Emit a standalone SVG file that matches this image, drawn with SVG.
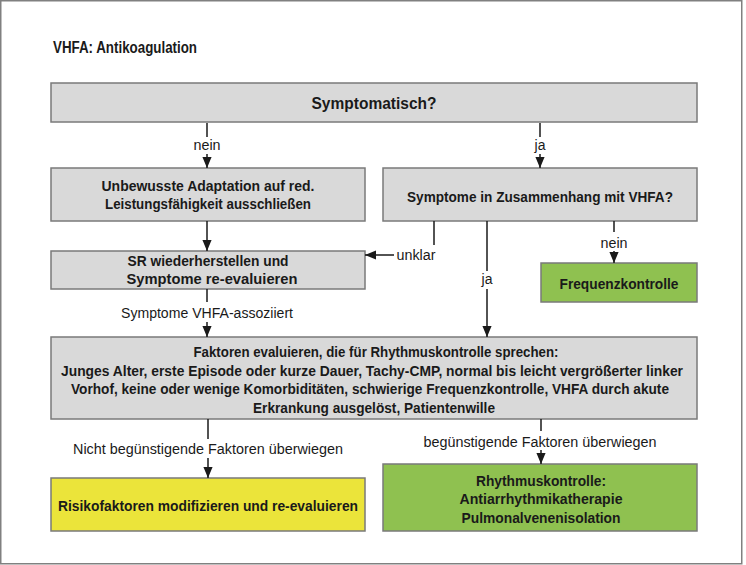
<svg xmlns="http://www.w3.org/2000/svg" width="746" height="565" viewBox="0 0 746 565">
<style>
.box{stroke:#7a7a7a;stroke-width:1.5}
.gray{fill:#d9d9d9}
.green{fill:#8fc150}
.yellow{fill:#ebe43a}
.b{font-family:"Liberation Sans",Arial,sans-serif;font-weight:bold;font-size:15px;fill:#1a1a1a;text-anchor:middle;dominant-baseline:central}
.r{font-family:"Liberation Sans",Arial,sans-serif;font-size:14px;fill:#1a1a1a;text-anchor:middle;dominant-baseline:central}
.c{stroke:#1a1a1a;stroke-width:1.5;fill:none}
</style>
<defs>
<marker id="ah" markerWidth="11" markerHeight="13" refX="12" refY="5" orient="auto" markerUnits="userSpaceOnUse" viewBox="0 0 12 10">
<path d="M0,0 L12,5 L0,10 z" fill="#1a1a1a"/>
</marker>
</defs>
<rect x="0.75" y="0.75" width="741" height="563" fill="#ffffff" stroke="#808080" stroke-width="1.5"/>
<text x="53" y="47" class="b" style="text-anchor:start;font-size:16px" textLength="144" lengthAdjust="spacingAndGlyphs">VHFA: Antikoagulation</text>

<g id="n1"><rect class="box gray" x="51" y="83" width="646" height="39"/><text class="b" x="374" y="103" style="font-size:17px" textLength="125" lengthAdjust="spacingAndGlyphs">Symptomatisch?</text></g>
<g id="n2"><rect class="box gray" x="51" y="168" width="314" height="53"/><text class="b" x="208" y="185" textLength="213" lengthAdjust="spacingAndGlyphs">Unbewusste Adaptation auf red.</text><text class="b" x="208" y="203" textLength="206" lengthAdjust="spacingAndGlyphs">Leistungsfähigkeit ausschließen</text></g>
<g id="n3"><rect class="box gray" x="383" y="168" width="314" height="53"/><text class="b" x="540" y="196" textLength="266" lengthAdjust="spacingAndGlyphs">Symptome in Zusammenhang mit VHFA?</text></g>
<g id="n4"><rect class="box gray" x="51" y="251" width="314" height="38"/><text class="b" x="208" y="260" textLength="161" lengthAdjust="spacingAndGlyphs">SR wiederherstellen und</text><text class="b" x="212" y="278" textLength="171" lengthAdjust="spacingAndGlyphs">Symptome re-evaluieren</text></g>
<g id="n5"><rect class="box green" x="541" y="263" width="156" height="39"/><text class="b" x="619" y="283" textLength="119" lengthAdjust="spacingAndGlyphs">Frequenzkontrolle</text></g>
<g id="n6"><rect class="box gray" x="51" y="337" width="646" height="82"/>
<text class="b" x="376" y="351" textLength="365" lengthAdjust="spacingAndGlyphs">Faktoren evaluieren, die für Rhythmuskontrolle sprechen:</text>
<text class="b" x="372" y="370" textLength="622" lengthAdjust="spacingAndGlyphs">Junges Alter, erste Episode oder kurze Dauer, Tachy-CMP, normal bis leicht vergrößerter linker</text>
<text class="b" x="370" y="388" textLength="598" lengthAdjust="spacingAndGlyphs">Vorhof, keine oder wenige Komorbiditäten, schwierige Frequenzkontrolle, VHFA durch akute</text>
<text class="b" x="374" y="407" textLength="242" lengthAdjust="spacingAndGlyphs">Erkrankung ausgelöst, Patientenwille</text></g>
<g id="n7"><rect class="box yellow" x="51" y="478" width="314" height="53"/><text class="b" x="208" y="505" textLength="300" lengthAdjust="spacingAndGlyphs">Risikofaktoren modifizieren und re-evaluieren</text></g>
<g id="n8"><rect class="box green" x="383" y="464" width="314" height="67"/><text class="b" x="541" y="480" textLength="130" lengthAdjust="spacingAndGlyphs">Rhythmuskontrolle:</text><text class="b" x="541" y="498" textLength="163" lengthAdjust="spacingAndGlyphs">Antiarrhythmikatherapie</text><text class="b" x="541" y="517" textLength="159" lengthAdjust="spacingAndGlyphs">Pulmonalvenenisolation</text></g>

<g id="connectors">
<path class="c" d="M207,123 V137"/><path class="c" d="M207,154 V168" marker-end="url(#ah)"/>
<text class="r" x="207" y="145" textLength="27" lengthAdjust="spacingAndGlyphs">nein</text>
<path class="c" d="M540,123 V137"/><path class="c" d="M540,154 V168" marker-end="url(#ah)"/>
<text class="r" x="540" y="145">ja</text>
<path class="c" d="M207,221 V251" marker-end="url(#ah)"/>
<path class="c" d="M434,221 V245"/><path class="c" d="M394,255 H365" marker-end="url(#ah)"/>
<text class="r" x="416" y="255" textLength="39" lengthAdjust="spacingAndGlyphs">unklar</text>
<path class="c" d="M487,221 V271"/><path class="c" d="M487,289 V337" marker-end="url(#ah)"/>
<text class="r" x="487" y="279">ja</text>
<path class="c" d="M614,221 V232"/><path class="c" d="M614,251 V263" marker-end="url(#ah)"/>
<text class="r" x="614" y="243" textLength="27" lengthAdjust="spacingAndGlyphs">nein</text>
<path class="c" d="M207,289 V302"/><path class="c" d="M207,322 V337" marker-end="url(#ah)"/>
<text class="r" x="207" y="313" textLength="172" lengthAdjust="spacingAndGlyphs">Symptome VHFA-assoziiert</text>
<path class="c" d="M208,419 V439"/><path class="c" d="M208,458 V478" marker-end="url(#ah)"/>
<text class="r" x="208" y="449" textLength="270" lengthAdjust="spacingAndGlyphs">Nicht begünstigende Faktoren überwiegen</text>
<path class="c" d="M541,419 V431"/><path class="c" d="M541,450 V464" marker-end="url(#ah)"/>
<text class="r" x="540" y="442" textLength="233" lengthAdjust="spacingAndGlyphs">begünstigende Faktoren überwiegen</text>
</g>
</svg>
